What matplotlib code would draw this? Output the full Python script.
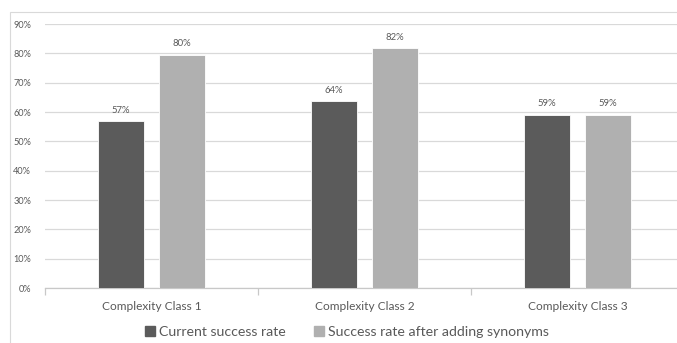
import matplotlib
matplotlib.use("Agg")
import matplotlib.pyplot as plt
from matplotlib.patches import Rectangle, Patch
import numpy as np

categories = ["Complexity Class 1", "Complexity Class 2", "Complexity Class 3"]
series_names = ["Current success rate", "Success rate after adding synonyms"]
current = [56.8, 63.7, 59.0]
after = [79.6, 81.8, 59.0]
current_labels = ["57%", "64%", "59%"]
after_labels = ["80%", "82%", "59%"]
yticks = [0, 10, 20, 30, 40, 50, 60, 70, 80, 90]

plt.rcParams['font.family'] = ['Lato', 'DejaVu Sans']

W, H = 677, 343
fig = plt.figure(figsize=(W/100, H/100), dpi=100)
fig.patch.set_facecolor("white")

# outer chart border
fig.patches.append(Rectangle((10/W, -0.2), 1.2, 1.2 - 12/H, transform=fig.transFigure,
                             fill=False, edgecolor="#d9d9d9", linewidth=0.8, zorder=0))

ax = fig.add_axes([45/W, 1-288/H, 639/W, (288-24)/H])
x = np.arange(len(categories))
bw = 0.22
off = 0.143
dark = "#5b5b5b"
light = "#b0b0b0"
b1 = ax.bar(x - off, current, bw, color=dark, edgecolor="white", linewidth=0.6, zorder=3)
b2 = ax.bar(x + off, after, bw, color=light, edgecolor="white", linewidth=0.6, zorder=3)

for rect, lab in zip(b1, current_labels):
    ax.text(rect.get_x() + rect.get_width()/2, rect.get_height() + 2.2, lab,
            ha="center", va="bottom", fontsize=6.8, color="#595959")
for rect, lab in zip(b2, after_labels):
    ax.text(rect.get_x() + rect.get_width()/2, rect.get_height() + 2.2, lab,
            ha="center", va="bottom", fontsize=6.8, color="#595959")

ax.set_xlim(-0.5, len(categories) - 0.5)
ax.set_ylim(0, 90)
ax.set_yticks(yticks)
ax.set_yticklabels([f"{v}%" for v in yticks], fontsize=6.6, color="#595959")
ax.yaxis.grid(True, color="#d9d9d9", linewidth=0.9, zorder=0)
ax.set_axisbelow(True)
for s in ["top", "right", "left"]:
    ax.spines[s].set_visible(False)
ax.spines["bottom"].set_color("#c8c8c8")
ax.spines["bottom"].set_linewidth(0.9)
ax.tick_params(axis="y", length=0, pad=10)

ax.set_xticks(x)
ax.set_xticklabels(categories, fontsize=8.6, color="#595959")
ax.tick_params(axis="x", length=0, pad=9)
ax.set_xticks(np.arange(-0.5, len(categories) + 0.5, 1), minor=True)
ax.tick_params(axis="x", which="minor", length=5, color="#c8c8c8", width=0.9)

handles = [Patch(facecolor=dark, edgecolor=dark), Patch(facecolor=light, edgecolor=light)]
fig.legend(handles, series_names, loc="center", bbox_to_anchor=(347/W, 1-332/H),
           ncol=2, frameon=False, fontsize=10.2, labelcolor="#595959",
           handlelength=0.7, handleheight=0.7, handletextpad=0.3, columnspacing=2.0)

fig.savefig("out.png", dpi=100)
